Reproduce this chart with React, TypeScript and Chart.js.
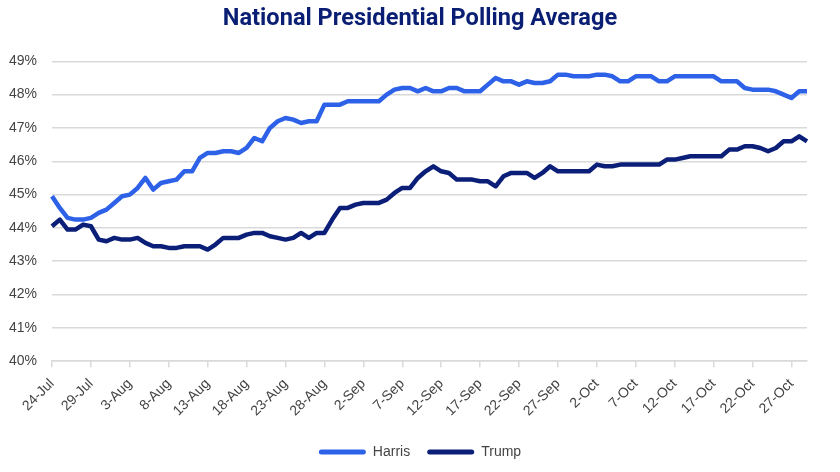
import React, { useEffect, useRef } from "react";
import { Chart, registerables } from "chart.js";

Chart.register(...registerables);

const categories: string[] = [
  "24-Jul","25-Jul","26-Jul","27-Jul","28-Jul","29-Jul","30-Jul","31-Jul",
  "1-Aug","2-Aug","3-Aug","4-Aug","5-Aug","6-Aug","7-Aug","8-Aug","9-Aug","10-Aug",
  "11-Aug","12-Aug","13-Aug","14-Aug","15-Aug","16-Aug","17-Aug","18-Aug","19-Aug","20-Aug",
  "21-Aug","22-Aug","23-Aug","24-Aug","25-Aug","26-Aug","27-Aug","28-Aug","29-Aug","30-Aug","31-Aug",
  "1-Sep","2-Sep","3-Sep","4-Sep","5-Sep","6-Sep","7-Sep","8-Sep","9-Sep","10-Sep",
  "11-Sep","12-Sep","13-Sep","14-Sep","15-Sep","16-Sep","17-Sep","18-Sep","19-Sep","20-Sep",
  "21-Sep","22-Sep","23-Sep","24-Sep","25-Sep","26-Sep","27-Sep","28-Sep","29-Sep","30-Sep",
  "1-Oct","2-Oct","3-Oct","4-Oct","5-Oct","6-Oct","7-Oct","8-Oct","9-Oct","10-Oct",
  "11-Oct","12-Oct","13-Oct","14-Oct","15-Oct","16-Oct","17-Oct","18-Oct","19-Oct","20-Oct",
  "21-Oct","22-Oct","23-Oct","24-Oct","25-Oct","26-Oct","27-Oct","28-Oct","29-Oct",
];

const harris: number[] = [
  44.95, 44.6, 44.3, 44.25, 44.25, 44.3, 44.45, 44.55, 44.75, 44.95,
  45.0, 45.2, 45.5, 45.15, 45.35, 45.4, 45.45, 45.7, 45.7, 46.1,
  46.25, 46.25, 46.3, 46.3, 46.25, 46.4, 46.7, 46.6, 47.0, 47.2,
  47.3, 47.25, 47.15, 47.2, 47.2, 47.7, 47.7, 47.7, 47.8, 47.8,
  47.8, 47.8, 47.8, 48.0, 48.15, 48.2, 48.2, 48.1, 48.2, 48.1,
  48.1, 48.2, 48.2, 48.1, 48.1, 48.1, 48.3, 48.5, 48.4, 48.4,
  48.3, 48.4, 48.35, 48.35, 48.4, 48.6, 48.6, 48.55, 48.55, 48.55,
  48.6, 48.6, 48.55, 48.4, 48.4, 48.55, 48.55, 48.55, 48.4, 48.4,
  48.55, 48.55, 48.55, 48.55, 48.55, 48.55, 48.4, 48.4, 48.4, 48.2,
  48.15, 48.15, 48.15, 48.1, 48.0, 47.9, 48.1, 48.1,
];

const trump: number[] = [
  44.05, 44.25, 43.95, 43.95, 44.1, 44.05, 43.65, 43.6, 43.7, 43.65,
  43.65, 43.7, 43.55, 43.45, 43.45, 43.4, 43.4, 43.45, 43.45, 43.45,
  43.35, 43.5, 43.7, 43.7, 43.7, 43.8, 43.85, 43.85, 43.75, 43.7,
  43.65, 43.7, 43.85, 43.7, 43.85, 43.85, 44.25, 44.6, 44.6, 44.7,
  44.75, 44.75, 44.75, 44.85, 45.05, 45.2, 45.2, 45.5, 45.7, 45.85,
  45.7, 45.65, 45.45, 45.45, 45.45, 45.4, 45.4, 45.25, 45.55, 45.65,
  45.65, 45.65, 45.5, 45.65, 45.85, 45.7, 45.7, 45.7, 45.7, 45.7,
  45.9, 45.85, 45.85, 45.9, 45.9, 45.9, 45.9, 45.9, 45.9, 46.05,
  46.05, 46.1, 46.15, 46.15, 46.15, 46.15, 46.15, 46.35, 46.35, 46.45,
  46.45, 46.4, 46.3, 46.4, 46.6, 46.6, 46.75, 46.6,
];

const seriesNames = ["Harris", "Trump"];
const titleText = "National Presidential Polling Average";
const yMin = 40;
const yMax = 49;

const HARRIS_COLOR = "#2d62e8";
const TRUMP_COLOR = "#0b1f78";
const GRID_COLOR = "#d9d9d9";
const TICK_COLOR = "#444444";
const FONT = "'Liberation Sans', Arial, sans-serif";

export default function App() {
  const ref = useRef<HTMLCanvasElement | null>(null);

  useEffect(() => {
    document.body.style.margin = "0";
    const canvas = ref.current;
    if (!canvas) return;
    const chart = new Chart(canvas, {
      type: "line",
      data: {
        labels: categories,
        datasets: [
          {
            label: seriesNames[0],
            data: harris,
            borderColor: HARRIS_COLOR,
            backgroundColor: HARRIS_COLOR,
            borderWidth: 4.5,
            pointRadius: 0,
            tension: 0,
            borderJoinStyle: "round",
          },
          {
            label: seriesNames[1],
            data: trump,
            borderColor: TRUMP_COLOR,
            backgroundColor: TRUMP_COLOR,
            borderWidth: 4.5,
            pointRadius: 0,
            tension: 0,
            borderJoinStyle: "round",
          },
        ],
      },
      options: {
        animation: false,
        responsive: false,
        maintainAspectRatio: false,
        layout: { padding: { left: 8, right: 8, top: 0, bottom: 3 } },
        plugins: {
          title: {
            display: true,
            text: titleText,
            color: "#0a1f73",
            font: { family: "Roboto, sans-serif", size: 23.6, weight: "bold" },
            padding: { top: 5, bottom: 28 },
          },
          legend: {
            position: "bottom",
            labels: {
              color: TICK_COLOR,
              font: { family: FONT, size: 14 },
              boxWidth: 47,
              boxHeight: 5,
              padding: 17,
              useBorderRadius: true,
              borderRadius: 2.5,
              generateLabels: (ch: any) => {
                const items = Chart.defaults.plugins.legend.labels.generateLabels(ch);
                return items.map((it: any) => ({
                  ...it,
                  lineWidth: 0,
                  strokeStyle: "rgba(0,0,0,0)",
                  fillStyle: ch.data.datasets[it.datasetIndex].borderColor,
                }));
              },
            },
          },
          tooltip: { enabled: false },
        },
        scales: {
          x: {
            type: "category",
            offset: false,
            afterFit: (s: any) => {
              s.paddingLeft = 0;
              s.paddingRight = 33;
            },
            grid: {
              display: true,
              drawOnChartArea: false,
              drawTicks: true,
              tickLength: 6,
              color: GRID_COLOR,
              lineWidth: 1.5,
              offset: false,
            },
            border: { display: true, color: GRID_COLOR, width: 1.5 },
            ticks: {
              autoSkip: false,
              maxRotation: 45,
              minRotation: 45,
              color: TICK_COLOR,
              font: { family: FONT, size: 14 },
              padding: 8.5,
              callback: function (this: any, value: any, index: number) {
                return index % 5 === 0 ? this.getLabelForValue(value) : null;
              },
            },
          },
          y: {
            min: yMin,
            max: yMax,
            afterFit: (s: any) => {
              s.width = 44;
            },
            grid: { color: GRID_COLOR, lineWidth: 1.5, drawTicks: false },
            border: { display: false },
            ticks: {
              stepSize: 1,
              color: TICK_COLOR,
              font: { family: FONT, size: 14 },
              padding: 15,
              callback: (v: any) => `${v}%`,
            },
          },
        },
      },
    });
    return () => chart.destroy();
  }, []);

  return (
    <div style={{ width: 840, height: 472 }}>
      <canvas ref={ref} width={840} height={472} style={{ display: "block" }} />
    </div>
  );
}
